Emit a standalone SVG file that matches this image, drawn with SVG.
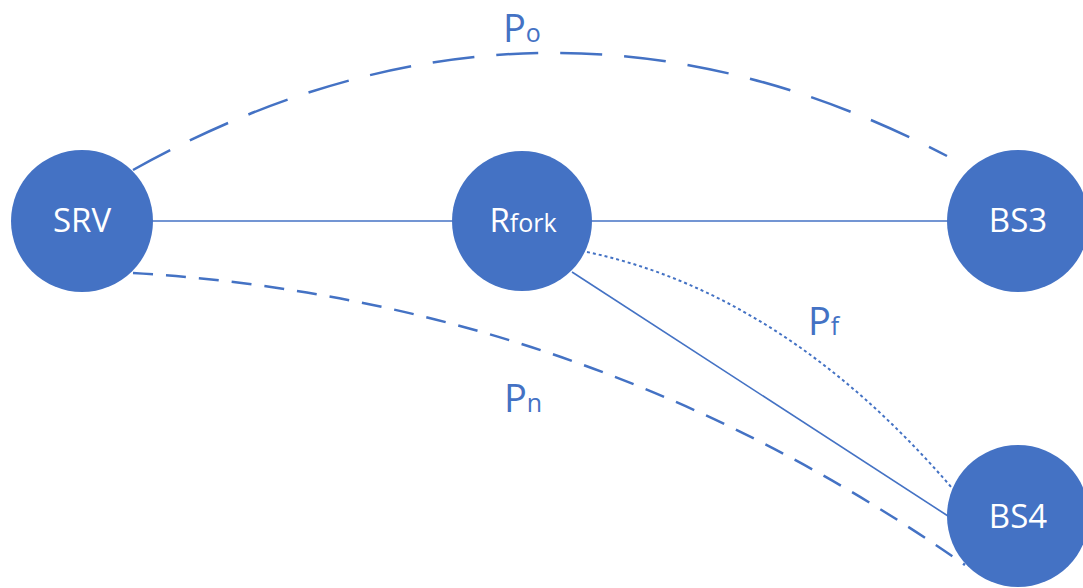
<svg xmlns="http://www.w3.org/2000/svg" width="1083" height="588" viewBox="0 0 1083 588">
<style>
.node{fill:#4472C4}
.nl{fill:#FFFFFF;font-family:"Open Sans","Liberation Sans",sans-serif;font-size:33px;text-anchor:middle}
.sub{font-size:25px}
.edge{fill:none;stroke:#4472C4}
.solid{stroke-width:1.6}
.dashL{stroke-width:2.5;stroke-dasharray:42 22}
.dashS{stroke-width:2.5;stroke-dasharray:20 13}
.dot{stroke-width:2;stroke-dasharray:3 3}
.pl{fill:#4472C4;font-family:"Open Sans","Liberation Sans",sans-serif;font-size:38px}
.ps{font-size:25px}
</style>
<rect width="1083" height="588" fill="#FFFFFF"/>
<g id="connectors">
<line class="edge solid" x1="150" y1="221" x2="455" y2="221"/>
<line class="edge solid" x1="590" y1="221" x2="950" y2="221"/>
<line class="edge solid" x1="572" y1="272" x2="948" y2="516"/>
<path class="edge dashL" d="M133,170 Q540,-57 947,156"/>
<path class="edge dashS" d="M133,273 Q587,300 965,565"/>
<path class="edge dot" d="M587,252 Q785,294 952,488"/>
</g>
<g id="label-Po"><text class="pl" x="503" y="42">P<tspan class="ps">o</tspan></text></g>
<g id="label-Pf"><text class="pl" x="808" y="335">P<tspan class="ps">f</tspan></text></g>
<g id="label-Pn"><text class="pl" x="504" y="412">P<tspan class="ps">n</tspan></text></g>
<g id="node-SRV"><circle class="node" cx="82" cy="221" r="71"/><text class="nl" x="82" y="232">SRV</text></g>
<g id="node-Rfork"><circle class="node" cx="522" cy="221" r="70"/><text class="nl" x="523" y="232">R<tspan class="sub">fork</tspan></text></g>
<g id="node-BS3"><circle class="node" cx="1018" cy="221" r="71"/><text class="nl" x="1018" y="232">BS3</text></g>
<g id="node-BS4"><circle class="node" cx="1018" cy="516" r="71"/><text class="nl" x="1018" y="528">BS4</text></g>
</svg>
